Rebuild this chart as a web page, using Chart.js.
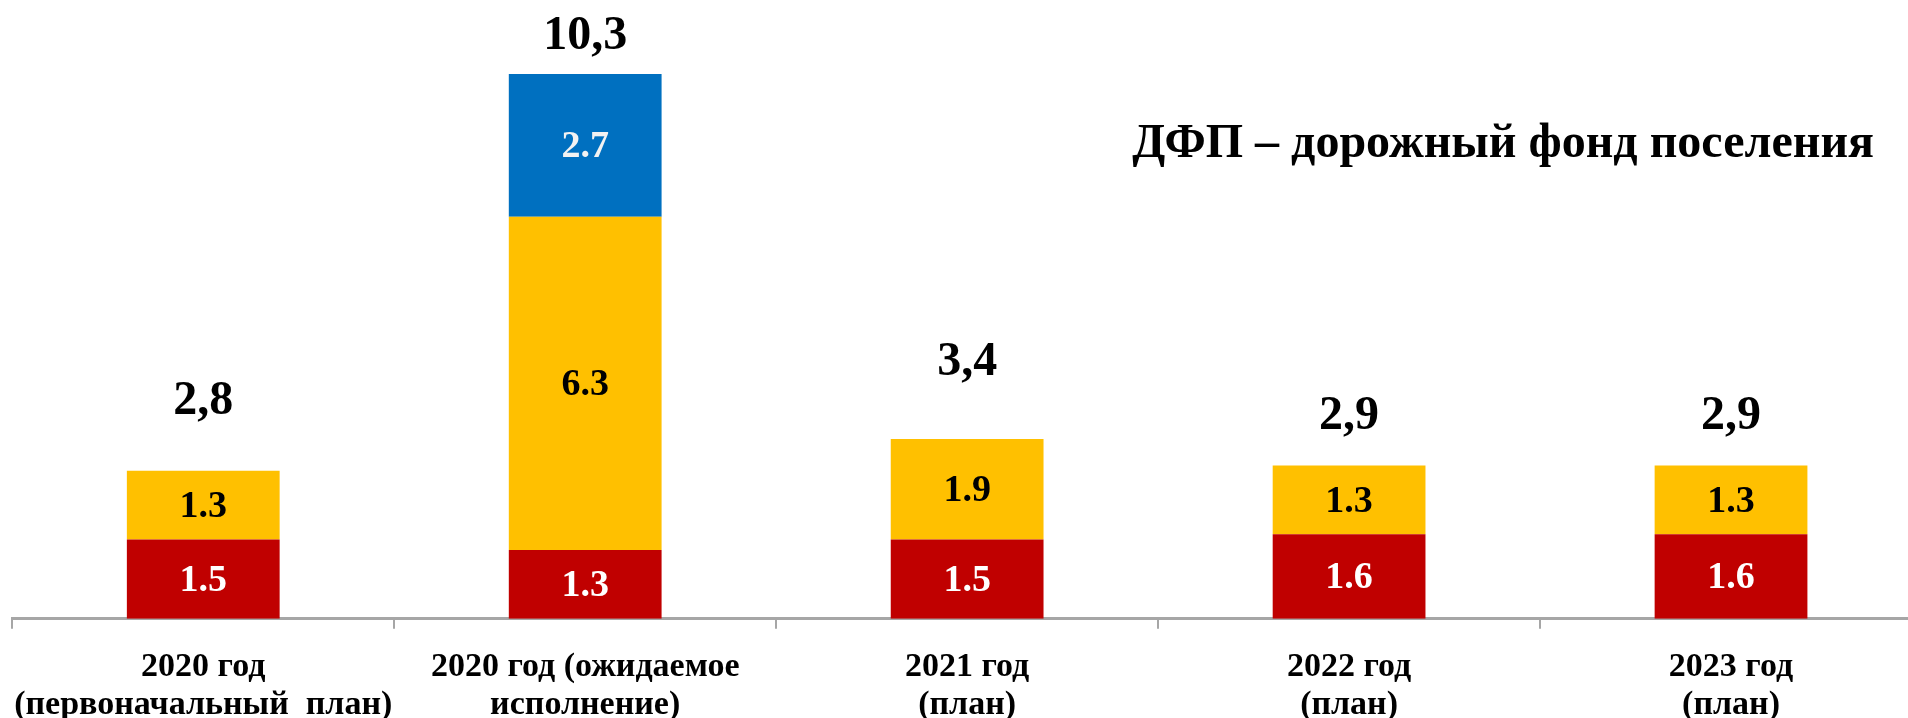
<!DOCTYPE html>
<html>
<head>
<meta charset="utf-8">
<script src="https://cdn.jsdelivr.net/npm/chart.js@4.4.0/dist/chart.umd.min.js"></script>
<style>
  html, body { margin: 0; padding: 0; background: #fff; overflow: hidden; }
  #wrap { position: relative; width: 1908px; height: 718px; overflow: hidden; }
  #myChart { position: absolute; left: -6px; top: 0; }
  #title {
    position: absolute; right: 34px; top: 113px;
    font-family: "Liberation Serif", "Times New Roman", serif;
    font-weight: bold; font-size: 48px; color: #000; white-space: nowrap;
  }
</style>
</head>
<body>
<div id="wrap">
  <canvas id="myChart" width="1928" height="743"></canvas>
  <div id="title">ДФП – дорожный фонд поселения</div>
</div>
<script>
var categories = [
  ["2020 год", "(первоначальный  план)"],
  ["2020 год (ожидаемое", "исполнение)"],
  ["2021 год", "(план)"],
  ["2022 год", "(план)"],
  ["2023 год", "(план)"]
];
var redValues = [1.5, 1.3, 1.5, 1.6, 1.6];
var yellowValues = [1.3, 6.3, 1.9, 1.3, 1.3];
var blueValues = [null, 2.7, null, null, null];
var totalLabels = ["2,8", "10,3", "3,4", "2,9", "2,9"];

// pixel gap between bar top and total label
var totalGaps = [73, 41, 80, 52, 52];

var serif = "'Liberation Serif', 'Times New Roman', serif";

var segmentLabels = {
  id: "segmentLabels",
  afterDatasetsDraw: function (chart) {
    var ctx = chart.ctx;
    ctx.save();
    ctx.textAlign = "center";
    ctx.textBaseline = "middle";
    chart.data.datasets.forEach(function (ds, i) {
      var meta = chart.getDatasetMeta(i);
      meta.data.forEach(function (bar, j) {
        var v = ds.data[j];
        if (v == null) return;
        var props = bar.getProps(["x", "y", "base"], true);
        ctx.fillStyle = ds.labelColor;
        ctx.font = "bold 38px " + serif;
        ctx.fillText(v.toFixed(1), props.x, (props.y + props.base) / 2 + 2);
      });
    });
    // totals
    var first = chart.getDatasetMeta(0);
    ctx.fillStyle = "#000";
    ctx.font = "bold 48px " + serif;
    ctx.textBaseline = "alphabetic";
    first.data.forEach(function (bar, j) {
      var total = (redValues[j] || 0) + (yellowValues[j] || 0) + (blueValues[j] || 0);
      var y = chart.scales.y.getPixelForValue(total);
      ctx.fillText(totalLabels[j], bar.x, y - totalGaps[j] + 16);
    });
    ctx.restore();
  }
};

var ctx = document.getElementById("myChart").getContext("2d");
var myChart = new Chart(ctx, {
  type: "bar",
  data: {
    labels: categories,
    datasets: [
      { label: "red", data: redValues, backgroundColor: "#C00000", labelColor: "#FFFFFF" },
      { label: "yellow", data: yellowValues, backgroundColor: "#FFC000", labelColor: "#000000" },
      { label: "blue", data: blueValues, backgroundColor: "#0070C0", labelColor: "#F2F2F2" }
    ]
  },
  options: {
    responsive: false,
    animation: false,
    layout: { padding: { left: 12, right: 0, top: 0, bottom: 0 } },
    datasets: {
      bar: { categoryPercentage: 1.0, barPercentage: 0.4 }
    },
    plugins: {
      legend: { display: false },
      tooltip: { enabled: false }
    },
    scales: {
      x: {
        stacked: true,
        grid: {
          offset: true,
          drawOnChartArea: false,
          drawTicks: true,
          tickLength: 10,
          color: "#A6A6A6",
          lineWidth: 2
        },
        border: { display: true, color: "#A6A6A6", width: 3 },
        ticks: {
          color: "#000",
          padding: 19,
          maxRotation: 0,
          autoSkip: false,
          font: { family: serif, size: 34, weight: "bold", lineHeight: 1.12 }
        }
      },
      y: {
        stacked: true,
        display: false,
        min: 0,
        max: 11.7
      }
    }
  },
  plugins: [segmentLabels]
});
</script>
</body>
</html>
